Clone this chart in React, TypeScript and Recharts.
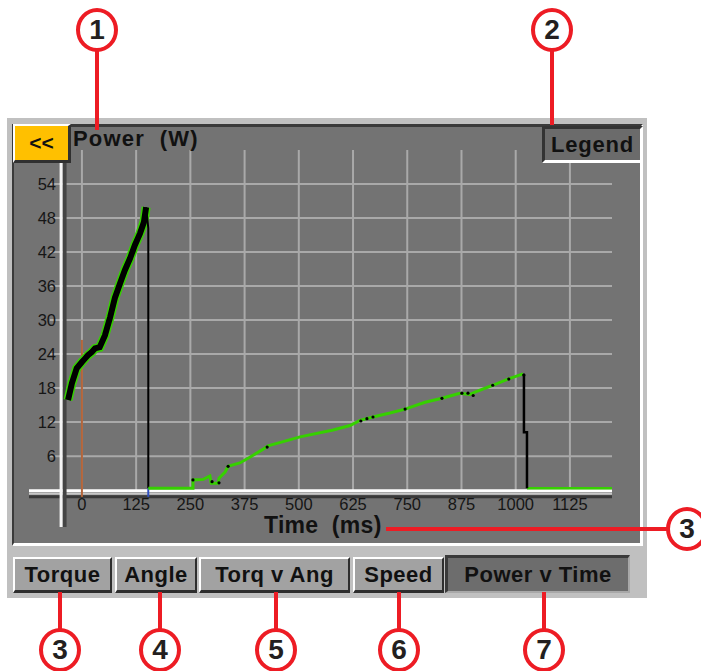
import { LineChart, Line, XAxis, YAxis, ReferenceLine } from "recharts";

// axis ticks
const xTicks = [0, 125, 250, 375, 500, 625, 750, 875, 1000, 1125];
const yTicks = [6, 12, 18, 24, 30, 36, 42, 48, 54];

// rising pulse (black band with green edges)
const pulseTime = [-32, -23, -12, 0, 7, 14, 22, 30, 41, 53, 65, 76, 88, 99, 111, 122, 134, 143, 148];
const pulsePower = [15.9, 18.9, 21.5, 22.6, 23.2, 23.8, 24.3, 25.0, 25.2, 27.3, 30.5, 33.9, 36.5, 38.8, 40.9, 43.2, 45.3, 47.3, 49.9];

// drop after the pulse
const dropTime = [148, 153, 153];
const dropPower = [49.9, 46.2, 0.35];
const blipTime = [153, 153];
const blipPower = [0.35, -1.2];

// trigger marker at t = 0
const markerTime = [0, 0];
const markerPower = [-1.2, 26.5];

// slow ramp (green)
const rampTime = [153, 256, 256, 280, 295, 298, 314, 316, 330, 337, 364, 387, 415, 429, 503, 579, 618, 641, 671, 710, 745, 791, 830, 871, 894, 906, 947, 982, 1017];
const rampPower = [0.35, 0.35, 1.8, 1.9, 2.5, 1.2, 1.2, 2.1, 3.2, 4.2, 4.8, 5.8, 7.1, 7.8, 9.4, 10.6, 11.4, 12.3, 12.9, 13.6, 14.3, 15.5, 16.2, 17.1, 16.9, 17.3, 18.5, 19.6, 20.5];

// end of ramp
const stopTime = [1017, 1019, 1019, 1026, 1026];
const stopPower = [20.5, 20.3, 10.2, 10.2, 0.35];
const tailTime = [1026, 1222];
const tailPower = [0.35, 0.35];

// black samples sitting on the ramp
const dotTime = [256, 300, 316, 337, 427, 643, 657, 671, 745, 830, 876, 890, 902, 947, 984, 1019];
const dotPower = [1.8, 1.5, 1.3, 4.2, 7.6, 12.2, 12.6, 12.9, 14.3, 16.2, 17.1, 17.1, 16.7, 18.5, 19.6, 20.3];

const tabs = ["Torque", "Angle", "Torq v Ang", "Speed", "Power v Time"];
const tabLeft = [13, 115, 199, 353, 445];
const tabWidth = [99, 82, 151, 91, 185];

const pts = (t: number[], p: number[]) => t.map((v, i) => ({ t: v, p: p[i] }));

const RED = "#ed1c24";
const GREEN = "#36d000";
const GRID = "#a9a9a9";
const UI_FONT = '"Liberation Sans", Arial, sans-serif';

const XTick = (props: any) => (
  <text x={props.x} y={510} textAnchor="middle" fontSize={16.5} fill="#161616" fontFamily={UI_FONT}>
    {props.payload.value}
  </text>
);

const YTick = (props: any) => (
  <text x={56} y={props.y + 6} textAnchor="end" fontSize={16.5} fill="#161616" fontFamily={UI_FONT}>
    {props.payload.value}
  </text>
);

function Bubble({ cx, cy, n }: { cx: number; cy: number; n: number }) {
  return (
    <div
      style={{
        position: "absolute",
        left: cx - 21,
        top: cy - 22,
        width: 42,
        height: 44,
        boxSizing: "border-box",
        border: `4px solid ${RED}`,
        borderRadius: "50%",
        background: "#fff",
        display: "flex",
        alignItems: "center",
        justifyContent: "center",
        fontFamily: UI_FONT,
        fontWeight: 700,
        fontSize: 28,
        color: "#231f20",
        lineHeight: 1,
      }}
    >
      {n}
    </div>
  );
}

const redLine = (left: number, top: number, width: number, height: number) => (
  <div style={{ position: "absolute", left, top, width, height, background: RED }} />
);

export default function App() {
  return (
    <div
      style={{
        position: "absolute",
        left: 0,
        top: 0,
        width: 701,
        height: 671,
        overflow: "hidden",
        background: "#fff",
        fontFamily: UI_FONT,
      }}
    >
      {/* device frame */}
      <div style={{ position: "absolute", left: 7, top: 118, width: 640, height: 480, background: "#c0c0c0" }} />
      <div
        style={{
          position: "absolute",
          left: 12,
          top: 124,
          width: 631,
          height: 422,
          boxSizing: "border-box",
          background: "#737373",
          borderTop: "3px solid #3a3a3a",
          borderLeft: "2px solid #3a3a3a",
          borderRight: "3px solid #fff",
          borderBottom: "3px solid #fff",
        }}
      />

      <div style={{ position: "absolute", left: 0, top: 0 }}>
        <LineChart width={701} height={671} margin={{ top: 150, right: 89, bottom: 114, left: 0 }}>
          <XAxis
            type="number"
            dataKey="t"
            domain={[-122, 1222]}
            ticks={xTicks}
            interval={0}
            allowDataOverflow
            height={30}
            axisLine={false}
            tickLine={false}
            tick={XTick}
          />
          <YAxis
            type="number"
            dataKey="p"
            domain={[-6.5, 60]}
            ticks={yTicks}
            interval={0}
            allowDataOverflow
            width={29}
            axisLine={false}
            tickLine={false}
            tick={YTick}
          />
          {yTicks.map((v) => (
            <ReferenceLine key={"h" + v} segment={[{ x: -74, y: v }, { x: 1222, y: v }]} stroke={GRID} strokeWidth={2} zIndex={-60} />
          ))}
          {xTicks.map((v) => (
            <ReferenceLine key={"v" + v} segment={[{ x: v, y: 0 }, { x: v, y: 60 }]} stroke={GRID} strokeWidth={2} zIndex={-60} />
          ))}
          {/* x axis bar */}
          <ReferenceLine segment={[{ x: -122, y: -1.15 }, { x: 1222, y: -1.15 }]} stroke="#3a3a3a" strokeWidth={3} zIndex={-50} />
          <ReferenceLine segment={[{ x: -122, y: -0.62 }, { x: 1222, y: -0.62 }]} stroke="#c8c8c8" strokeWidth={2} zIndex={-50} />
          <ReferenceLine segment={[{ x: -122, y: -0.1 }, { x: 1222, y: -0.1 }]} stroke="#ffffff" strokeWidth={3} zIndex={-50} />
          {/* y axis bar */}
          <ReferenceLine segment={[{ x: -40, y: -6.5 }, { x: -40, y: 57.7 }]} stroke="#444" strokeWidth={4} zIndex={-40} />
          <ReferenceLine segment={[{ x: -48, y: -6.5 }, { x: -48, y: 57.7 }]} stroke="#f4f4f4" strokeWidth={3} zIndex={-40} />

          <Line data={pts(markerTime, markerPower)} dataKey="p" stroke="#b4653a" strokeWidth={2} dot={false} activeDot={false} isAnimationActive={false} />
          <Line data={pts(pulseTime, pulsePower)} dataKey="p" stroke={GREEN} strokeWidth={9} dot={false} activeDot={false} isAnimationActive={false} />
          <Line data={pts(pulseTime, pulsePower)} dataKey="p" stroke="#000" strokeWidth={6} dot={false} activeDot={false} isAnimationActive={false} />
          <Line data={pts(dropTime, dropPower)} dataKey="p" stroke="#000" strokeWidth={2} dot={false} activeDot={false} isAnimationActive={false} />
          <Line data={pts(blipTime, blipPower)} dataKey="p" stroke="#3050c0" strokeWidth={2} dot={false} activeDot={false} isAnimationActive={false} />
          <Line data={pts(rampTime, rampPower)} dataKey="p" stroke={GREEN} strokeWidth={3} dot={false} activeDot={false} isAnimationActive={false} />
          <Line data={pts(tailTime, tailPower)} dataKey="p" stroke={GREEN} strokeWidth={2.5} dot={false} activeDot={false} isAnimationActive={false} />
          <Line data={pts(stopTime, stopPower)} dataKey="p" stroke="#000" strokeWidth={2.5} dot={false} activeDot={false} isAnimationActive={false} />
          <Line
            data={pts(dotTime, dotPower)}
            dataKey="p"
            stroke="none"
            dot={{ r: 1.6, fill: "#000", stroke: "none" }}
            activeDot={false}
            isAnimationActive={false}
          />
        </LineChart>
      </div>

      {/* header */}
      <div
        style={{
          position: "absolute",
          left: 13,
          top: 124,
          width: 58,
          height: 39,
          boxSizing: "border-box",
          background: "#ffc000",
          borderTop: "2px solid #fff",
          borderLeft: "2px solid #fff",
          borderRight: "3px solid #303030",
          borderBottom: "3px solid #303030",
          display: "flex",
          alignItems: "center",
          justifyContent: "center",
          fontWeight: 700,
          fontSize: 21,
          color: "#111",
        }}
      >
        {"<<"}
      </div>
      <div style={{ position: "absolute", left: 73, top: 128, fontWeight: 700, fontSize: 22, lineHeight: "22px", letterSpacing: 1.2, color: "#111", whiteSpace: "pre" }}>
        {"Power  (W)"}
      </div>
      <div
        style={{
          position: "absolute",
          left: 542,
          top: 126,
          width: 101,
          height: 37,
          boxSizing: "border-box",
          background: "#6b6b6b",
          borderTop: "3px solid #333",
          borderLeft: "3px solid #333",
          borderRight: "3px solid #fff",
          borderBottom: "3px solid #fff",
          display: "flex",
          alignItems: "center",
          justifyContent: "center",
          fontWeight: 700,
          fontSize: 22,
          letterSpacing: 0.8,
          color: "#111",
        }}
      >
        Legend
      </div>
      <div style={{ position: "absolute", left: 264, top: 514, fontWeight: 700, fontSize: 23, lineHeight: "22px", letterSpacing: 0.3, color: "#111", whiteSpace: "pre" }}>
        {"Time  (ms)"}
      </div>

      {/* tabs */}
      {tabs.map((name, i) => {
        const sel = i === tabs.length - 1;
        return (
          <div
            key={name}
            style={{
              position: "absolute",
              left: tabLeft[i],
              top: sel ? 555 : 557,
              width: tabWidth[i],
              height: sel ? 38 : 36,
              boxSizing: "border-box",
              background: sel ? "#6d6d6d" : "#a2a2a2",
              borderTop: sel ? "3px solid #3a3a3a" : "2px solid #fff",
              borderLeft: sel ? "3px solid #3a3a3a" : "2px solid #fff",
              borderRight: sel ? "2px solid #a8a8a8" : "2px solid #2e2e2e",
              borderBottom: sel ? "2px solid #a8a8a8" : "3px solid #2e2e2e",
              display: "flex",
              alignItems: "center",
              justifyContent: "center",
              fontWeight: 700,
              fontSize: 22,
              letterSpacing: 0.5,
              color: "#111",
              whiteSpace: "pre",
            }}
          >
            {name}
          </div>
        );
      })}

      {/* callouts */}
      {redLine(95, 50, 4, 80)}
      {redLine(550, 50, 4, 75)}
      {redLine(386, 527, 282, 4)}
      {redLine(58, 592, 4, 38)}
      {redLine(158, 592, 4, 38)}
      {redLine(274, 592, 4, 38)}
      {redLine(397, 592, 4, 38)}
      {redLine(542, 592, 4, 38)}
      <Bubble cx={97} cy={30} n={1} />
      <Bubble cx={552} cy={30} n={2} />
      <Bubble cx={687} cy={529} n={3} />
      <Bubble cx={60} cy={650} n={3} />
      <Bubble cx={160} cy={650} n={4} />
      <Bubble cx={276} cy={650} n={5} />
      <Bubble cx={399} cy={650} n={6} />
      <Bubble cx={544} cy={650} n={7} />
    </div>
  );
}
